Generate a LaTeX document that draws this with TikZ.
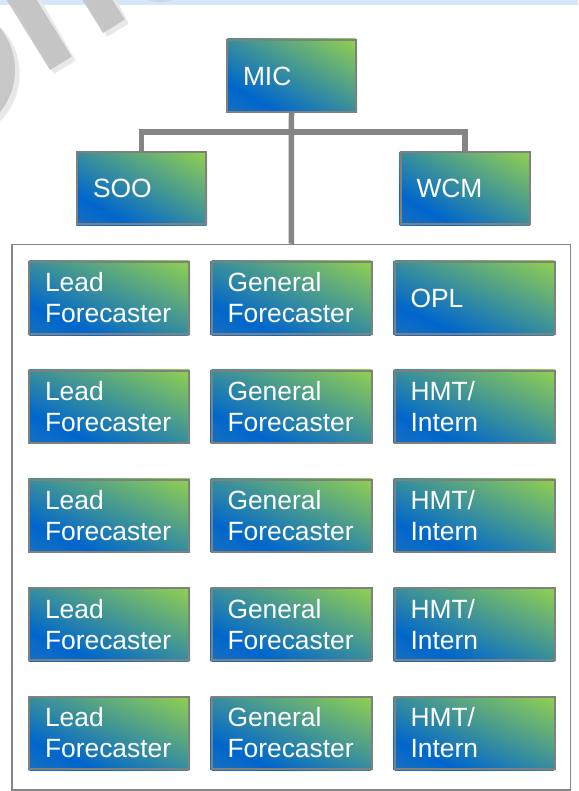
\documentclass[tikz,border=0pt]{standalone}
\usepackage{fontspec}
\setmainfont{Liberation Sans}
\usetikzlibrary{backgrounds}
\definecolor{gBL}{HTML}{1870C0}
\definecolor{gBlue}{HTML}{0066CC}
\definecolor{gGreen}{HTML}{92D050}
\definecolor{boxborder}{HTML}{808080}
\definecolor{linegray}{HTML}{858585}
\definecolor{bandblue}{HTML}{D5E5FA}
\definecolor{wmgray}{HTML}{C2C2C2}
\definecolor{wmshadow}{HTML}{E8E8E8}
\pgfdeclarehorizontalshading{boxgrad}{100bp}{color(0bp)=(gBL); color(25.45bp)=(gBL); color(35.3bp)=(gBlue); color(74.55bp)=(gGreen); color(100bp)=(gGreen)}
\newcommand\gradfill[2]{%
  \begin{scope}
    \clip (#1.south west) rectangle (#1.north east);
    \begin{scope}[transform canvas={shift={(#1.center)}, xscale=#2/100, yscale=0.72, rotate=45}]
      \shade[shading=boxgrad] (-72,-72) rectangle (72,72);
    \end{scope}
  \end{scope}}
\tikzset{
  orgbox/.style={draw=boxborder, line width=2pt,
    minimum height=72pt, inner xsep=16pt, inner ysep=0pt, align=left, text=white,
    font=\fontsize{26.4}{31}\selectfont, anchor=center},
  topbox/.style={orgbox, text width=97pt},
  gridbox/.style={orgbox, text width=128pt},
  conn/.style={draw=linegray, line width=5.5pt},
  frame/.style={draw=linegray, line width=1.5pt}
}
\begin{document}
\begin{tikzpicture}[x=1pt,y=-1pt]
\useasboundingbox (0,0) rectangle (578,791);
% background band and watermark
\begin{scope}
\clip (0,0) rectangle (578,791);
\fill[bandblue] (0,0) rectangle (578,4.7);
\fill[wmshadow] (-47.3,74) circle (67);
\fill[wmgray, opacity=0.85] (-51.3,70) circle (66.3);
\fill[wmshadow] (10.7,0) -- (54,74) -- (75.7,60.6) -- (40.7,0) -- cycle;
\fill[wmgray, opacity=0.9] (6.7,0) -- (50,70) -- (71.7,56.6) -- (36.7,0) -- cycle;
\fill[wmshadow] (86.6,0) -- (107,37) -- (128.7,23.6) -- (116.6,0) -- cycle;
\fill[wmgray, opacity=0.9] (82.6,0) -- (103,33) -- (124.7,19.6) -- (112.6,0) -- cycle;
\fill[wmgray, opacity=0.4] (160,-4) ellipse (16 and 6);
\end{scope}
% top level
\node[topbox] (mic) at (291.5,76) {MIC};
\node[topbox] (soo) at (141.5,188.5) {SOO};
\node[topbox] (wcm) at (465,188.5) {WCM};
% container
\node[frame, minimum width=558.5pt, minimum height=545.5pt, inner sep=0pt] (staff) at (291.25,517.25) {};
% connectors
\coordinate (bar) at (291.5,132);
\draw[conn] (mic.south) -- (staff.north);
\draw[conn] (soo.north) |- (bar) -| (wcm.north);
% grid
\node[gridbox] (l1) at (109,298) {Lead\\Forecaster};
\node[gridbox] (g1) at (291.5,298) {General\\Forecaster};
\node[gridbox] (o1) at (474.5,298) {OPL};
\node[gridbox] (l2) at (109,406.75) {Lead\\Forecaster};
\node[gridbox] (g2) at (291.5,406.75) {General\\Forecaster};
\node[gridbox] (h2) at (474.5,406.75) {HMT/\\Intern};
\node[gridbox] (l3) at (109,515.5) {Lead\\Forecaster};
\node[gridbox] (g3) at (291.5,515.5) {General\\Forecaster};
\node[gridbox] (h3) at (474.5,515.5) {HMT/\\Intern};
\node[gridbox] (l4) at (109,624.25) {Lead\\Forecaster};
\node[gridbox] (g4) at (291.5,624.25) {General\\Forecaster};
\node[gridbox] (h4) at (474.5,624.25) {HMT/\\Intern};
\node[gridbox] (l5) at (109,733) {Lead\\Forecaster};
\node[gridbox] (g5) at (291.5,733) {General\\Forecaster};
\node[gridbox] (h5) at (474.5,733) {HMT/\\Intern};
% gradient fills behind the boxes
\begin{scope}[on background layer]
  \foreach \n in {mic,soo,wcm} {\gradfill{\n}{129}}
  \foreach \n in {l1,g1,o1,l2,g2,h2,l3,g3,h3,l4,g4,h4,l5,g5,h5} {\gradfill{\n}{160}}
\end{scope}
\end{tikzpicture}
\end{document}
